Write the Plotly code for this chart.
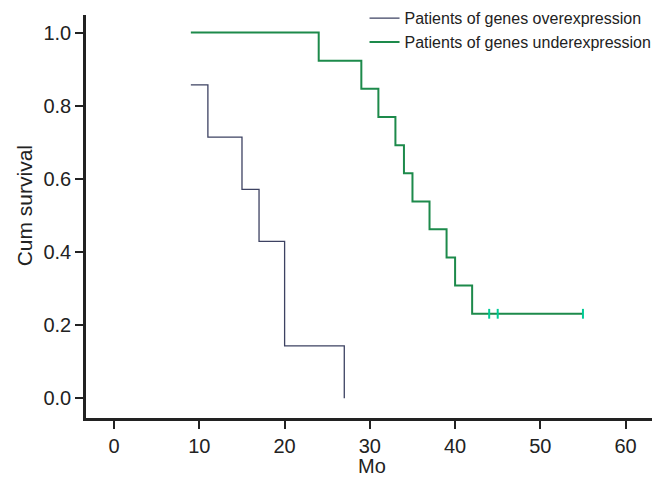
import plotly.graph_objects as go

# Overexpression group (Kaplan-Meier steps)
over_time = [9, 11, 15, 17, 20, 27]
over_surv = [0.857, 0.714, 0.571, 0.429, 0.143, 0.0]

# Underexpression group
under_time = [9, 24, 29, 31, 33, 34, 35, 37, 39, 40, 42, 55]
under_surv = [1.0, 0.923, 0.846, 0.769, 0.692, 0.615, 0.538, 0.462, 0.385, 0.308, 0.231, 0.231]

# Censored points for underexpression
cens_time = [44, 45, 55]
cens_surv = [0.231, 0.231, 0.231]

x_ticks = [0, 10, 20, 30, 40, 50, 60]
y_ticks = [0.0, 0.2, 0.4, 0.6, 0.8, 1.0]

dark = "#3d4262"
green = "#1d8a4b"
font = "Liberation Sans, Arial, sans-serif"

fig = go.Figure()
fig.add_trace(go.Scatter(x=over_time, y=over_surv, mode="lines", line_shape="hv",
                         line=dict(color=dark, width=1.3),
                         name="Patients of genes overexpression"))
fig.add_trace(go.Scatter(x=under_time, y=under_surv, mode="lines", line_shape="hv",
                         line=dict(color=green, width=2),
                         name="Patients of genes underexpression"))
fig.add_trace(go.Scatter(x=cens_time, y=cens_surv, mode="markers",
                         marker=dict(symbol="line-ns-open", size=7,
                                     line=dict(color=green, width=2)),
                         showlegend=False))

fig.update_layout(
    width=662, height=479,
    margin=dict(l=78, r=18, t=7, b=69, autoexpand=False),
    paper_bgcolor="white", plot_bgcolor="white",
    font=dict(family=font, color="#222"),
    legend=dict(x=1.008, xanchor="right", y=1.034, yanchor="top",
                font=dict(size=16, color="#222"), bgcolor="rgba(0,0,0,0)",
                itemwidth=30, tracegroupgap=0),
    xaxis=dict(range=[-3.3, 63.1], tickvals=x_ticks, ticks="outside", ticklen=8,
               tickwidth=2, tickcolor="#222", showline=True, linewidth=2.5,
               linecolor="#222", showgrid=False, zeroline=False,
               tickfont=dict(size=20), automargin=False),
    yaxis=dict(range=[-0.054, 1.048], tickvals=y_ticks, tickformat=".1f",
               ticks="outside", ticklen=8, tickwidth=2, tickcolor="#222",
               showline=True, linewidth=2.5, linecolor="#222", showgrid=False,
               zeroline=False, tickfont=dict(size=20), automargin=False),
    annotations=[
        dict(text="Mo", xref="paper", yref="paper", x=0.505, y=-0.119,
             xanchor="center", yanchor="middle", showarrow=False,
             font=dict(size=20, color="#222")),
        dict(text="Cum survival", xref="paper", yref="paper", x=-0.109, y=0.526,
             xanchor="center", yanchor="middle", textangle=-90, showarrow=False,
             font=dict(size=21, color="#222")),
    ],
)

fig.write_html("out.html")
